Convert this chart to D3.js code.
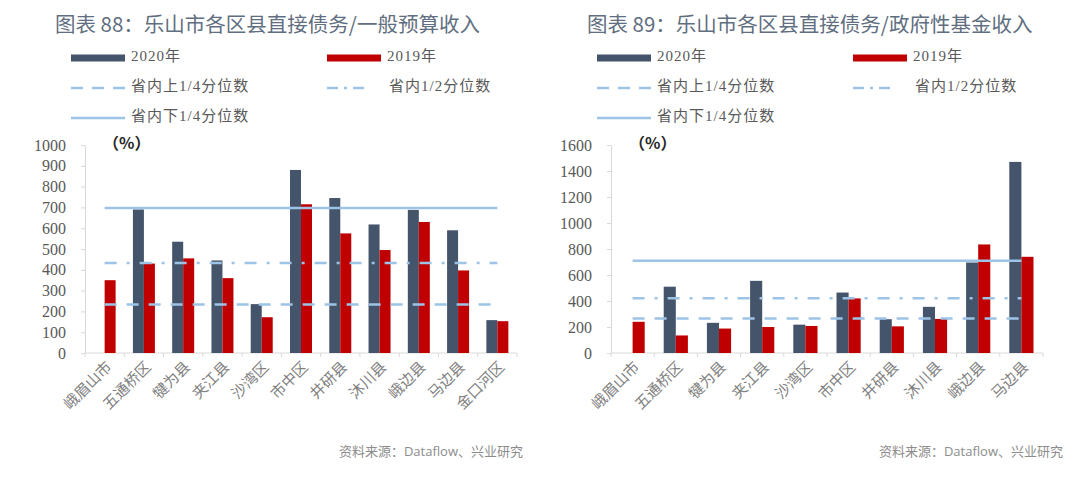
<!DOCTYPE html>
<html>
<head>
<meta charset="utf-8">
<script src="https://cdn.jsdelivr.net/npm/d3@7"></script>
<style>
body { margin: 0; background: #fff; }
svg { display: block; }
</style>
</head>
<body>
<svg id="chart" width="1080" height="483"></svg>
<script>
// 图表88: 直接债务/一般预算收入 (%)
const cats88 = ["峨眉山市", "五通桥区", "犍为县", "夹江县", "沙湾区", "市中区", "井研县", "沐川县", "峨边县", "马边县", "金口河区"];
const v2020_88 = [null, 690, 535, 445, 235, 880, 745, 618, 688, 590, 158];
const v2019_88 = [350, 430, 455, 360, 172, 715, 575, 495, 630, 397, 153];
// 省内上1/4, 1/2, 下1/4 分位数
const quart88 = [233, 433, 697];
const ticks88 = [0, 100, 200, 300, 400, 500, 600, 700, 800, 900, 1000];

// 图表89: 直接债务/政府性基金收入 (%)
const cats89 = ["峨眉山市", "五通桥区", "犍为县", "夹江县", "沙湾区", "市中区", "井研县", "沐川县", "峨边县", "马边县"];
const v2020_89 = [null, 510, 232, 555, 218, 465, 260, 355, 696, 1470];
const v2019_89 = [240, 135, 188, 200, 208, 420, 205, 262, 835, 740];
const quart89 = [265, 421, 710];
const ticks89 = [0, 200, 400, 600, 800, 1000, 1200, 1400, 1600];

const seriesNames = ["2020年", "2019年"];
const quartNames = ["省内上1/4分位数", "省内1/2分位数", "省内下1/4分位数"];

const barColor = d3.scaleOrdinal().domain(seriesNames).range(["#44546a", "#c00000"]);
const lineColor = "#9dc3e6";
const quartDash = ["12,10", "12,10,3,10", null];
const serif = "'Liberation Serif', 'Noto Sans CJK SC', serif";
const sans = "'Noto Sans CJK SC', sans-serif";

function load_chart(svg, cfg) {
    let chart = svg.append("g");

    // x band scale, pair of bars in the middle of each band
    let x = d3.scaleBand()
        .domain(cfg.cats)
        .range([cfg.left, cfg.right])
        .paddingInner(0.44)
        .paddingOuter(0.22);
    let xs = d3.scaleBand()
        .domain(seriesNames)
        .range([0, x.bandwidth()]);
    let y = d3.scaleLinear()
        .domain([0, d3.max(cfg.ticks)])
        .range([353, 145]);

    // y axis
    let yAxis = d3.axisLeft(y).tickValues(cfg.ticks).tickFormat(d3.format("d"))
        .tickSize(4).tickSizeOuter(0).tickPadding(15);
    let yg = chart.append("g")
        .attr("transform", "translate(" + cfg.left + ",0)")
        .call(yAxis);
    yg.attr("font-family", null);
    yg.selectAll("path, line").attr("stroke", "#d9d9d9");
    yg.selectAll("text")
        .style("font-family", serif)
        .style("font-size", "16px")
        .style("fill", "#595959");

    // x axis line + ticks at band boundaries
    chart.append("line")
        .attr("x1", cfg.left).attr("x2", cfg.right)
        .attr("y1", y(0)).attr("y2", y(0))
        .attr("stroke", "#d9d9d9");
    let step = x.step();
    chart.selectAll("xtick")
        .data(d3.range(cfg.cats.length + 1))
        .enter().append("line")
        .attr("x1", function(i) { return cfg.left + i * step; })
        .attr("x2", function(i) { return cfg.left + i * step; })
        .attr("y1", y(0)).attr("y2", y(0) + 4)
        .attr("stroke", "#d9d9d9");

    // x labels, rotated
    chart.selectAll("xlabel")
        .data(cfg.cats)
        .enter().append("text")
        .attr("transform", function(d) {
            return "translate(" + (x(d) + x.bandwidth() / 2 + 5) + "," + (y(0) + 12) + ") rotate(-45)";
        })
        .attr("text-anchor", "end")
        .attr("dominant-baseline", "middle")
        .style("font-family", sans)
        .style("font-size", "15px")
        .style("fill", "#808080")
        .text(function(d) { return d; });

    // bars
    let rows = [];
    cfg.cats.forEach(function(c, i) {
        rows.push({ cat: c, s: seriesNames[0], v: cfg.v2020[i] });
        rows.push({ cat: c, s: seriesNames[1], v: cfg.v2019[i] });
    });
    chart.selectAll("bar")
        .data(rows.filter(function(d) { return d.v != null; }))
        .enter().append("rect")
        .attr("x", function(d) { return x(d.cat) + xs(d.s); })
        .attr("y", function(d) { return y(d.v); })
        .attr("width", xs.bandwidth())
        .attr("height", function(d) { return y(0) - y(d.v); })
        .attr("fill", function(d) { return barColor(d.s); });

    // quartile lines from first to last category centre
    let x0 = x(cfg.cats[0]) + x.bandwidth() / 2;
    let x1 = x(cfg.cats[cfg.cats.length - 1]) + x.bandwidth() / 2;
    chart.selectAll("qline")
        .data(cfg.quart)
        .enter().append("line")
        .attr("x1", x0).attr("x2", x1)
        .attr("y1", function(d) { return y(d); })
        .attr("y2", function(d) { return y(d); })
        .attr("stroke", lineColor)
        .attr("stroke-width", 2.5)
        .attr("stroke-dasharray", function(d, i) { return quartDash[i]; });

    // (%) unit
    chart.append("text")
        .attr("x", cfg.left + 18).attr("y", 145)
        .attr("dominant-baseline", "middle")
        .style("font-family", sans)
        .style("font-size", "16px")
        .style("font-weight", "bold")
        .style("fill", "#262626")
        .text("（%）");

    // title
    chart.append("text")
        .attr("x", cfg.titleX).attr("y", 26)
        .attr("dominant-baseline", "middle")
        .style("font-family", sans)
        .style("font-size", "20.5px")
        .style("fill", "#5f6e80")
        .text(cfg.title);

    // legend
    let lx1 = cfg.left - 14, lx2 = cfg.left + 242;
    let rowsY = [58, 88, 118];
    chart.append("rect").attr("x", lx1).attr("y", rowsY[0] - 3.5).attr("width", 54).attr("height", 7).attr("fill", barColor(seriesNames[0]));
    chart.append("rect").attr("x", lx2).attr("y", rowsY[0] - 3.5).attr("width", 54).attr("height", 7).attr("fill", barColor(seriesNames[1]));
    chart.append("line").attr("x1", lx1).attr("x2", lx1 + 54).attr("y1", rowsY[1]).attr("y2", rowsY[1])
        .attr("stroke", lineColor).attr("stroke-width", 2.5).attr("stroke-dasharray", "12,9");
    chart.append("line").attr("x1", lx2).attr("x2", lx2 + 37).attr("y1", rowsY[1]).attr("y2", rowsY[1])
        .attr("stroke", lineColor).attr("stroke-width", 2.5).attr("stroke-dasharray", "11,6,3,6");
    chart.append("line").attr("x1", lx1).attr("x2", lx1 + 54).attr("y1", rowsY[2]).attr("y2", rowsY[2])
        .attr("stroke", lineColor).attr("stroke-width", 2.5);

    let legendText = [
        { t: seriesNames[0], x: lx1 + 60, y: rowsY[0] },
        { t: seriesNames[1], x: lx2 + 60, y: rowsY[0] },
        { t: quartNames[0], x: lx1 + 60, y: rowsY[1] },
        { t: quartNames[1], x: lx2 + 62, y: rowsY[1] },
        { t: quartNames[2], x: lx1 + 60, y: rowsY[2] }
    ];
    chart.selectAll("ltext")
        .data(legendText)
        .enter().append("text")
        .attr("x", function(d) { return d.x; })
        .attr("y", function(d) { return d.y; })
        .attr("dominant-baseline", "middle")
        .style("font-family", serif)
        .style("font-size", "15px")
        .style("letter-spacing", "1px")
        .style("fill", "#595959")
        .text(function(d) { return d.t; });

    // source
    chart.append("text")
        .attr("x", cfg.sourceX).attr("y", 453)
        .attr("text-anchor", "end")
        .attr("dominant-baseline", "middle")
        .style("font-family", "'Open Sans', 'Noto Sans CJK SC', sans-serif")
        .style("font-size", "13px")
        .style("fill", "#8c8c8c")
        .text("资料来源：Dataflow、兴业研究");

    return { chart: chart, x_scale: x, y_scale: y };
}

let svg = d3.select("#chart");
svg.append("rect").attr("width", 1080).attr("height", 483).attr("fill", "#fff");

load_chart(svg, {
    cats: cats88, v2020: v2020_88, v2019: v2019_88, quart: quart88, ticks: ticks88,
    left: 85, right: 517, titleX: 55, sourceX: 523,
    title: "图表 88：乐山市各区县直接债务/一般预算收入"
});
load_chart(svg, {
    cats: cats89, v2020: v2020_89, v2019: v2019_89, quart: quart89, ticks: ticks89,
    left: 611, right: 1043, titleX: 587, sourceX: 1063,
    title: "图表 89：乐山市各区县直接债务/政府性基金收入"
});
</script>
</body>
</html>
